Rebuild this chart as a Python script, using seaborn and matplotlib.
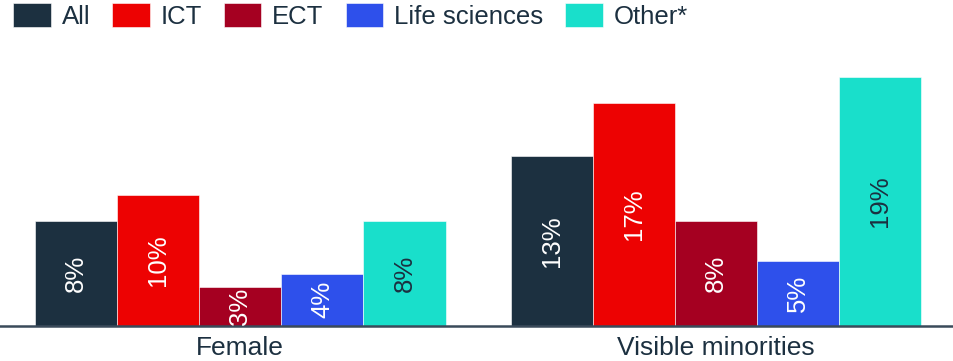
import matplotlib
matplotlib.use("Agg")
import matplotlib.pyplot as plt
import seaborn as sns
import pandas as pd

# Share of each group by field
groups = ["Female", "Visible minorities"]
fields = ["All", "ICT", "ECT", "Life sciences", "Other*"]
female = [8, 10, 3, 4, 8]
visible_minorities = [13, 17, 8, 5, 19]

colors = ["#1c3040", "#ed0202", "#a50021", "#2e50eb", "#19dfcb"]
text_dark = "#1c3040"

rows = []
for g, vals in zip(groups, [female, visible_minorities]):
    for f, v in zip(fields, vals):
        rows.append({"group": g, "field": f, "value": v})
df = pd.DataFrame(rows)

sns.set_theme(style="white")
plt.rcParams["font.family"] = ["Liberation Sans", "DejaVu Sans"]

W, H = 954, 361
fig = plt.figure(figsize=(W / 100, H / 100), dpi=100)
base_px, top_px = 326, 50
ax = fig.add_axes([0, (H - base_px) / H, 1, (base_px - top_px) / H])

sns.barplot(data=df, x="group", y="value", hue="field", hue_order=fields,
            palette=colors, width=0.863, gap=0, errorbar=None,
            edgecolor="white", linewidth=0.4, saturation=1, ax=ax)

ax.set_xlim(-0.505, 1.5)
ax.set_ylim(0, (base_px - top_px) / 13.1)

for i, cont in enumerate(ax.containers):
    txts = ax.bar_label(cont, labels=[f"{int(v)}%" for v in cont.datavalues],
                        label_type="center", rotation=90, fontsize=18.5,
                        color=text_dark if i == len(fields) - 1 else "white")
    for t in txts:
        t.set_clip_on(True)

handles, labels = ax.get_legend_handles_labels()
ax.get_legend().remove()
fig.legend(handles, labels, loc="upper left", bbox_to_anchor=(13 / W, 1 - 3 / H),
           ncol=5, frameon=False, fontsize=18.5, handlelength=1.46, handleheight=1.08,
           handletextpad=0.43, columnspacing=0.85, borderpad=0, borderaxespad=0,
           labelcolor=text_dark)

ax.set_xlabel("")
ax.set_ylabel("")
ax.set_yticks([])
ax.tick_params(axis="x", length=0, pad=7, labelsize=19, labelcolor=text_dark)
for s in ["left", "right", "top"]:
    ax.spines[s].set_visible(False)
ax.spines["bottom"].set_color("#3a4a5a")
ax.spines["bottom"].set_linewidth(1.8)

fig.savefig("out.png", dpi=100)
